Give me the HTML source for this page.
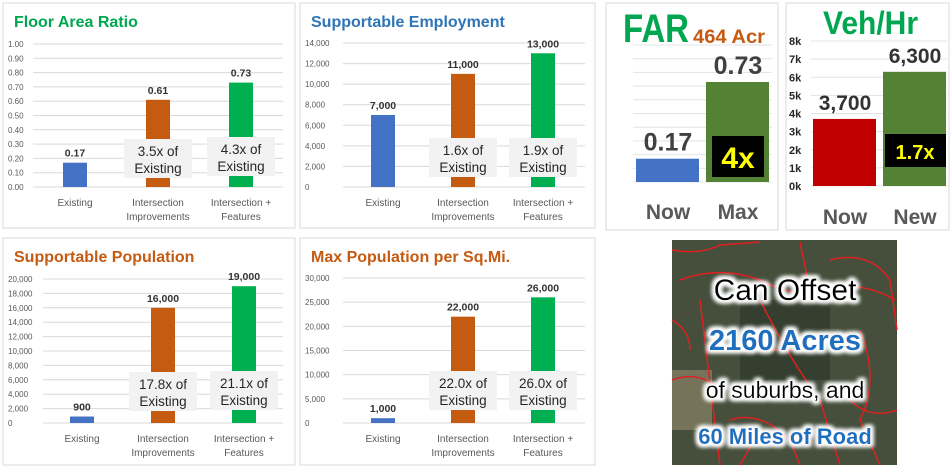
<!DOCTYPE html>
<html><head><meta charset="utf-8"><style>
body{margin:0;width:952px;height:468px;background:#fff;overflow:hidden;font-family:"Liberation Sans",sans-serif}
svg text{font-family:"Liberation Sans","DejaVu Sans",sans-serif}
</style></head><body>
<svg id="s" width="952" height="468" xmlns="http://www.w3.org/2000/svg">
<defs>
<filter id="glow" x="-20%" y="-40%" width="140%" height="180%"><feMorphology in="SourceAlpha" operator="dilate" radius="2.5" result="d"/><feGaussianBlur in="d" stdDeviation="2" result="b"/><feFlood flood-color="#fff"/><feComposite in2="b" operator="in" result="w"/><feMerge><feMergeNode in="w"/><feMergeNode in="w"/><feMergeNode in="SourceGraphic"/></feMerge></filter>
</defs>
</svg>
<script>
const categories = ["Existing", "Intersection Improvements", "Intersection + Features"];
const farValues = [0.17, 0.61, 0.73];
const empValues = [7000, 11000, 13000];
const popValues = [900, 16000, 19000];
const densValues = [1000, 22000, 26000];
const farTicks = ["0.00","0.10","0.20","0.30","0.40","0.50","0.60","0.70","0.80","0.90","1.00"];
const empTicks = ["0","2,000","4,000","6,000","8,000","10,000","12,000","14,000"];
const popTicks = ["0","2,000","4,000","6,000","8,000","10,000","12,000","14,000","16,000","18,000","20,000"];
const densTicks = ["0","5,000","10,000","15,000","20,000","25,000","30,000"];
const farLabels = ["0.17","0.61","0.73"];
const empLabels = ["7,000","11,000","13,000"];
const popLabels = ["900","16,000","19,000"];
const densLabels = ["1,000","22,000","26,000"];
const farMult = ["3.5x of","4.3x of"];
const empMult = ["1.6x of","1.9x of"];
const popMult = ["17.8x of","21.1x of"];
const densMult = ["22.0x of","26.0x of"];
const bigFarCats = ["Now","Max"];
const bigFarValues = [0.17, 0.73];
const bigFarLabels = ["0.17","0.73"];
const vehCats = ["Now","New"];
const vehValues = [3700, 6300];
const vehLabels = ["3,700","6,300"];
const vehTicks = ["0k","1k","2k","3k","4k","5k","6k","7k","8k"];

const S = document.getElementById('s');
const NS = 'http://www.w3.org/2000/svg';
function mk(tag, attrs, text, parent) {
  const e = document.createElementNS(NS, tag);
  for (const k in attrs) e.setAttribute(k, attrs[k]);
  if (text !== undefined) e.textContent = text;
  (parent || S).appendChild(e);
  return e;
}
const colors = ["#4472c4", "#c55a11", "#00b050"];

function panel(o) {
  const g = mk('g', {});
  
  
  const fr = mk('rect', {x:o.x, y:o.y, width:o.w, height:o.h, fill:'#fff', stroke:'#d9d9d9'}, undefined, g);
  
  
  const t = mk('text', {x:o.x + 11, y:o.y + 24, 'font-size':16, 'font-weight':'bold', fill:o.tcolor}, o.title, g);
  
  
  const yv = v => o.y0 - (v / o.max) * (o.y0 - o.y1);
  const n = o.ticks.length - 1;
  o.ticks.forEach((tk, i) => {
    const v = o.max * i / n, yy = yv(v);
    const l = mk('line', {x1:o.px0, x2:o.px1, y1:yy, y2:yy, stroke:'#d9d9d9'}, undefined, g);
    
    
    const tt = mk('text', {x:o.x + 5, y:yy + 3, 'font-size':8, fill:'#595959'}, tk, g);
    
    
  });
  o.values.forEach((v, i) => {
    const cx = o.cx0 + i * o.dx, top = yv(v);
    const r = mk('rect', {x:cx - 12, y:top, width:24, height:o.y0 - top, fill:colors[i]}, undefined, g);
    
    
    const lb = mk('text', {x:cx, y:top - 6, 'font-size':10.5, 'font-weight':'bold', fill:'#333', 'text-anchor':'middle'}, o.labels[i], g);
    
    
    const parts = categories[i] === "Existing" ? ["Existing"] : (i === 1 ? ["Intersection", "Improvements"] : ["Intersection +", "Features"]);
    parts.forEach((p, j) => {
      const ct = mk('text', {x:cx, y:o.y0 + 19 + j * 14, 'font-size':10, fill:'#595959', 'text-anchor':'middle'}, p, g);
      
      
    });
    if (i > 0) {
      const by = o.boxY[i - 1];
      const bx = mk('rect', {x:cx - 34, y:by, width:68, height:39, fill:'#f2f2f2'}, undefined, g);
      
      
      const m1 = mk('text', {x:cx, y:by + 17, 'font-size':13.5, fill:'#262626', 'text-anchor':'middle'}, o.mult[i - 1], g);
      
      
      const m2 = mk('text', {x:cx, y:by + 34, 'font-size':13.5, fill:'#262626', 'text-anchor':'middle'}, 'Existing', g);
      
      
    }
  });
}

panel({name:'floor-area-ratio-chart', x:3, y:3, w:292, h:225, title:'Floor Area Ratio', tcolor:'#00a650', ticks:farTicks, max:1.0, y0:187, y1:44, px0:33, px1:283, cx0:75, dx:83, values:farValues, labels:farLabels, mult:farMult, boxY:[139,137]});
panel({name:'supportable-employment-chart', x:300, y:3, w:295, h:225, title:'Supportable Employment', tcolor:'#2e75b6', ticks:empTicks, max:14000, y0:187, y1:43, px0:343, px1:585, cx0:383, dx:80, values:empValues, labels:empLabels, mult:empMult, boxY:[138,138]});
panel({name:'supportable-population-chart', x:3, y:238, w:292, h:227, title:'Supportable Population', tcolor:'#c55a11', ticks:popTicks, max:20000, y0:423, y1:279, px0:43, px1:283, cx0:82, dx:81, values:popValues, labels:popLabels, mult:popMult, boxY:[372,371]});
panel({name:'max-population-density-chart', x:300, y:238, w:295, h:227, title:'Max Population per Sq.Mi.', tcolor:'#c55a11', ticks:densTicks, max:30000, y0:423, y1:278, px0:343, px1:585, cx0:383, dx:80, values:densValues, labels:densLabels, mult:densMult, boxY:[371,371]});

// Big FAR panel
(function(){
  const g = mk('g', {});
  
  
  const fr = mk('rect', {x:606, y:3, width:172, height:227, fill:'#fff', stroke:'#d9d9d9'}, undefined, g);
  
  
  const y0 = 182, y1 = 45;
  const yv = v => y0 - v * (y0 - y1);
  for (let i = 0; i <= 10; i++) {
    const l = mk('line', {x1:633, x2:772, y1:yv(i / 10), y2:yv(i / 10), stroke:'#e3e3e3'}, undefined, g);
    
    
  }
  const t1 = mk('text', {x:623, y:42, 'font-size':40, 'font-weight':'bold', fill:'#00a650', textLength:66, lengthAdjust:'spacingAndGlyphs'}, 'FAR', g);
  
  
  const t2 = mk('text', {x:693, y:43, 'font-size':19, 'font-weight':'bold', fill:'#c55a11', textLength:72, lengthAdjust:'spacingAndGlyphs'}, '464 Acr', g);
  
  
  const fc = ['#4472c4', '#548235'];
  bigFarValues.forEach((v, i) => {
    const x = 636 + i * 70, top = yv(v);
    const r = mk('rect', {x:x, y:top, width:63, height:y0 - top, fill:fc[i]}, undefined, g);
    
    
    const lb = mk('text', {x:x + 32, y:top - 8, 'font-size':25, 'font-weight':'bold', fill:'#404040', 'text-anchor':'middle'}, bigFarLabels[i], g);
    
    
    const cl = mk('text', {x:x + 32, y:219, 'font-size':21, 'font-weight':'bold', fill:'#595959', 'text-anchor':'middle'}, bigFarCats[i], g);
    
    
  });
  const b = mk('rect', {x:712, y:136, width:52, height:41, fill:'#000'}, undefined, g);
  
  
  const bt = mk('text', {x:738, y:168, 'font-size':30, 'font-weight':'bold', fill:'#ffff00', 'text-anchor':'middle'}, '4x', g);
  
  
})();

// Veh/Hr panel
(function(){
  const g = mk('g', {});
  
  
  const fr = mk('rect', {x:786, y:3, width:163, height:227, fill:'#fff', stroke:'#d9d9d9'}, undefined, g);
  
  
  const y0 = 186, y1 = 41, max = 8000;
  const yv = v => y0 - v / max * (y0 - y1);
  vehTicks.forEach((tk, i) => {
    const yy = yv(i * 1000);
    const l = mk('line', {x1:811, x2:947, y1:yy, y2:yy, stroke:'#e3e3e3'}, undefined, g);
    
    
    const tt = mk('text', {x:789, y:yy + 4, 'font-size':11, 'font-weight':'bold', fill:'#262626'}, tk, g);
    
    
  });
  const t = mk('text', {x:823, y:34, 'font-size':32, 'font-weight':'bold', fill:'#00a650', textLength:95, lengthAdjust:'spacingAndGlyphs'}, 'Veh/Hr', g);
  
  
  const vc = ['#c00000', '#548235'];
  vehValues.forEach((v, i) => {
    const x = 813 + i * 70, top = yv(v);
    const r = mk('rect', {x:x, y:top, width:63, height:y0 - top, fill:vc[i]}, undefined, g);
    
    
    const lb = mk('text', {x:x + 32, y:top - 9, 'font-size':21, 'font-weight':'bold', fill:'#333', 'text-anchor':'middle'}, vehLabels[i], g);
    
    
    const cl = mk('text', {x:x + 32, y:224, 'font-size':21, 'font-weight':'bold', fill:'#595959', 'text-anchor':'middle'}, vehCats[i], g);
    
    
  });
  const b = mk('rect', {x:885, y:134, width:61, height:33, fill:'#000'}, undefined, g);
  
  
  const bt = mk('text', {x:915, y:159, 'font-size':20, 'font-weight':'bold', fill:'#ffff00', 'text-anchor':'middle'}, '1.7x', g);
  
  
})();

// Aerial image panel
(function(){
  const g = mk('g', {});
  
  
  const bg = mk('rect', {x:672, y:240, width:225, height:225, fill:'#454f3c'}, undefined, g);
  
  
  mk('rect', {x:672, y:370, width:40, height:60, fill:'#8a8468', opacity:0.7}, undefined, g);
  mk('rect', {x:740, y:300, width:90, height:80, fill:'#2c3527', opacity:0.6}, undefined, g);
  const roads = ["M672,250 Q700,255 720,245 L760,242","M680,280 Q720,265 760,280 Q800,300 830,290 Q860,280 895,300",
    "M700,300 L720,465","M760,300 Q790,360 820,400 L840,465","M830,260 Q870,250 890,280 L897,330","M672,380 Q700,370 720,390",
    "M860,330 Q880,380 860,420 L880,465","M800,242 L810,290","M730,420 Q760,410 790,440 L800,465","M672,320 Q690,330 690,350",
    "M850,400 Q870,420 897,410","M760,350 L800,350","M740,465 L760,430"];
  roads.forEach(d => {
    const p = mk('path', {d:d, fill:'none', stroke:'#e02020', 'stroke-width':1.5}, undefined, g);
    
    
  });
  const lines = [["Can Offset",300,30,'#000','normal'],["2160 Acres",350,29,'#1f6fbf','bold'],["of suburbs, and",398,23,'#000','normal'],["60 Miles of Road",444,22,'#1f6fbf','bold']];
  lines.forEach(l => {
    const t = mk('text', {x:785, y:l[1], 'font-size':l[2], fill:l[3], 'font-weight':l[4], 'text-anchor':'middle', filter:'url(#glow)'}, l[0], g);
    
    
  });
})();
</script>
</body></html>
